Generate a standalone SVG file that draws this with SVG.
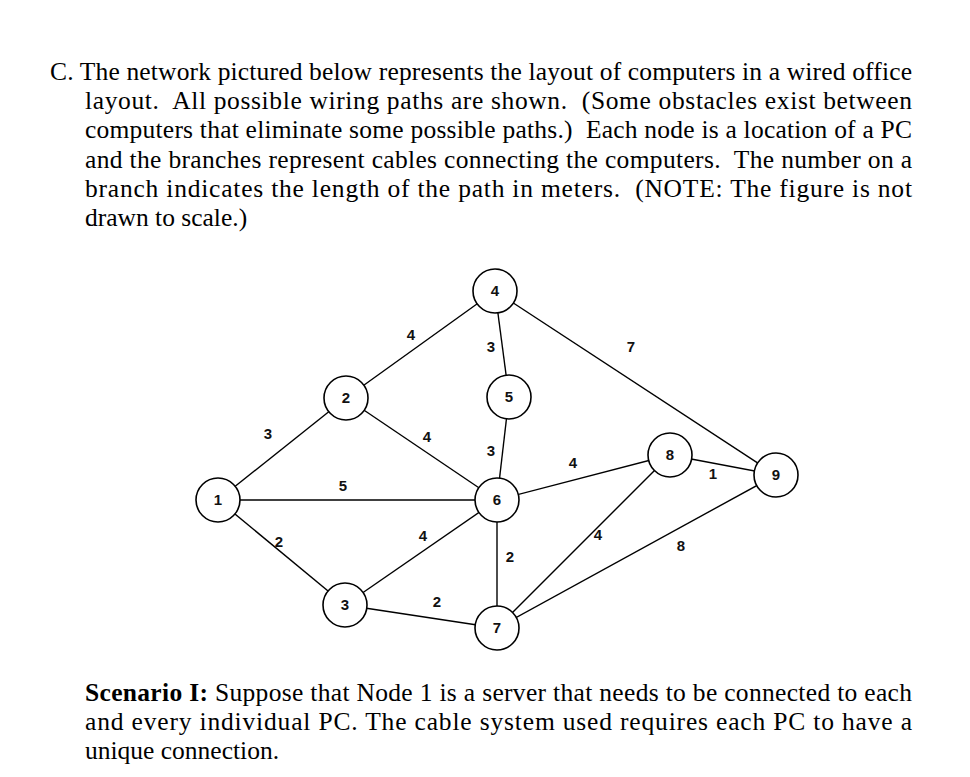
<svg xmlns="http://www.w3.org/2000/svg" width="970" height="777" viewBox="0 0 970 777">
<style>
.t{font-family:"Liberation Serif",serif;font-size:25.5px;fill:#000;white-space:pre}
.n circle{fill:#fff;stroke:#000;stroke-width:1.6}
.n text,.l{font-family:"Liberation Sans",sans-serif;font-weight:bold;font-size:15px;text-anchor:middle;fill:#111}
#edges line{stroke:#000;stroke-width:1.4}
</style>
<rect width="970" height="777" fill="#fff"/>
<text class="t" x="50" y="80" textLength="862" lengthAdjust="spacing">C. The network pictured below represents the layout of computers in a wired office</text>
<text class="t" x="85" y="109" textLength="827" lengthAdjust="spacing">layout.  All possible wiring paths are shown.  (Some obstacles exist between</text>
<text class="t" x="85" y="138" textLength="827" lengthAdjust="spacing">computers that eliminate some possible paths.)  Each node is a location of a PC</text>
<text class="t" x="85" y="168" textLength="827" lengthAdjust="spacing">and the branches represent cables connecting the computers.  The number on a</text>
<text class="t" x="85" y="197" textLength="827" lengthAdjust="spacing">branch indicates the length of the path in meters.  (NOTE: The figure is not</text>
<text class="t" x="85" y="226">drawn to scale.)</text>
<g id="edges">
<line x1="218" y1="500" x2="346" y2="398"/>
<line x1="218" y1="500" x2="497" y2="500"/>
<line x1="218" y1="500" x2="345" y2="605"/>
<line x1="346" y1="398" x2="495" y2="291"/>
<line x1="346" y1="398" x2="497" y2="500"/>
<line x1="495" y1="291" x2="509" y2="397"/>
<line x1="509" y1="397" x2="497" y2="500"/>
<line x1="495" y1="291" x2="776" y2="475"/>
<line x1="497" y1="500" x2="670" y2="455"/>
<line x1="670" y1="455" x2="776" y2="475"/>
<line x1="345" y1="605" x2="497" y2="500"/>
<line x1="345" y1="605" x2="497" y2="628"/>
<line x1="497" y1="500" x2="497" y2="628"/>
<line x1="497" y1="628" x2="670" y2="455"/>
<line x1="497" y1="628" x2="776" y2="475"/>
</g>
<g id="labels">
<text class="l" x="268" y="439">3</text>
<text class="l" x="411" y="340">4</text>
<text class="l" x="427" y="442">4</text>
<text class="l" x="491" y="352">3</text>
<text class="l" x="491" y="456">3</text>
<text class="l" x="343" y="491">5</text>
<text class="l" x="279" y="547">2</text>
<text class="l" x="423" y="541">4</text>
<text class="l" x="437" y="607">2</text>
<text class="l" x="510" y="562">2</text>
<text class="l" x="573" y="468">4</text>
<text class="l" x="631" y="352">7</text>
<text class="l" x="598" y="540">4</text>
<text class="l" x="681" y="551">8</text>
<text class="l" x="713" y="479">1</text>
</g>
<g id="node1" class="n"><circle cx="218" cy="500" r="22"/><text x="218" y="505">1</text></g>
<g id="node2" class="n"><circle cx="346" cy="398" r="22"/><text x="346" y="403">2</text></g>
<g id="node3" class="n"><circle cx="345" cy="605" r="22"/><text x="345" y="610">3</text></g>
<g id="node4" class="n"><circle cx="495" cy="291" r="22"/><text x="495" y="296">4</text></g>
<g id="node5" class="n"><circle cx="509" cy="397" r="22"/><text x="509" y="402">5</text></g>
<g id="node6" class="n"><circle cx="497" cy="500" r="22"/><text x="497" y="505">6</text></g>
<g id="node7" class="n"><circle cx="497" cy="628" r="22"/><text x="497" y="633">7</text></g>
<g id="node8" class="n"><circle cx="670" cy="455" r="22"/><text x="670" y="460">8</text></g>
<g id="node9" class="n"><circle cx="776" cy="475" r="22"/><text x="776" y="480">9</text></g>
<text class="t" x="85" y="701" textLength="827" lengthAdjust="spacing"><tspan font-weight="bold">Scenario I:</tspan> Suppose that Node 1 is a server that needs to be connected to each</text>
<text class="t" x="85" y="730" textLength="827" lengthAdjust="spacing">and every individual PC. The cable system used requires each PC to have a</text>
<text class="t" x="85" y="759">unique connection.</text>
</svg>
